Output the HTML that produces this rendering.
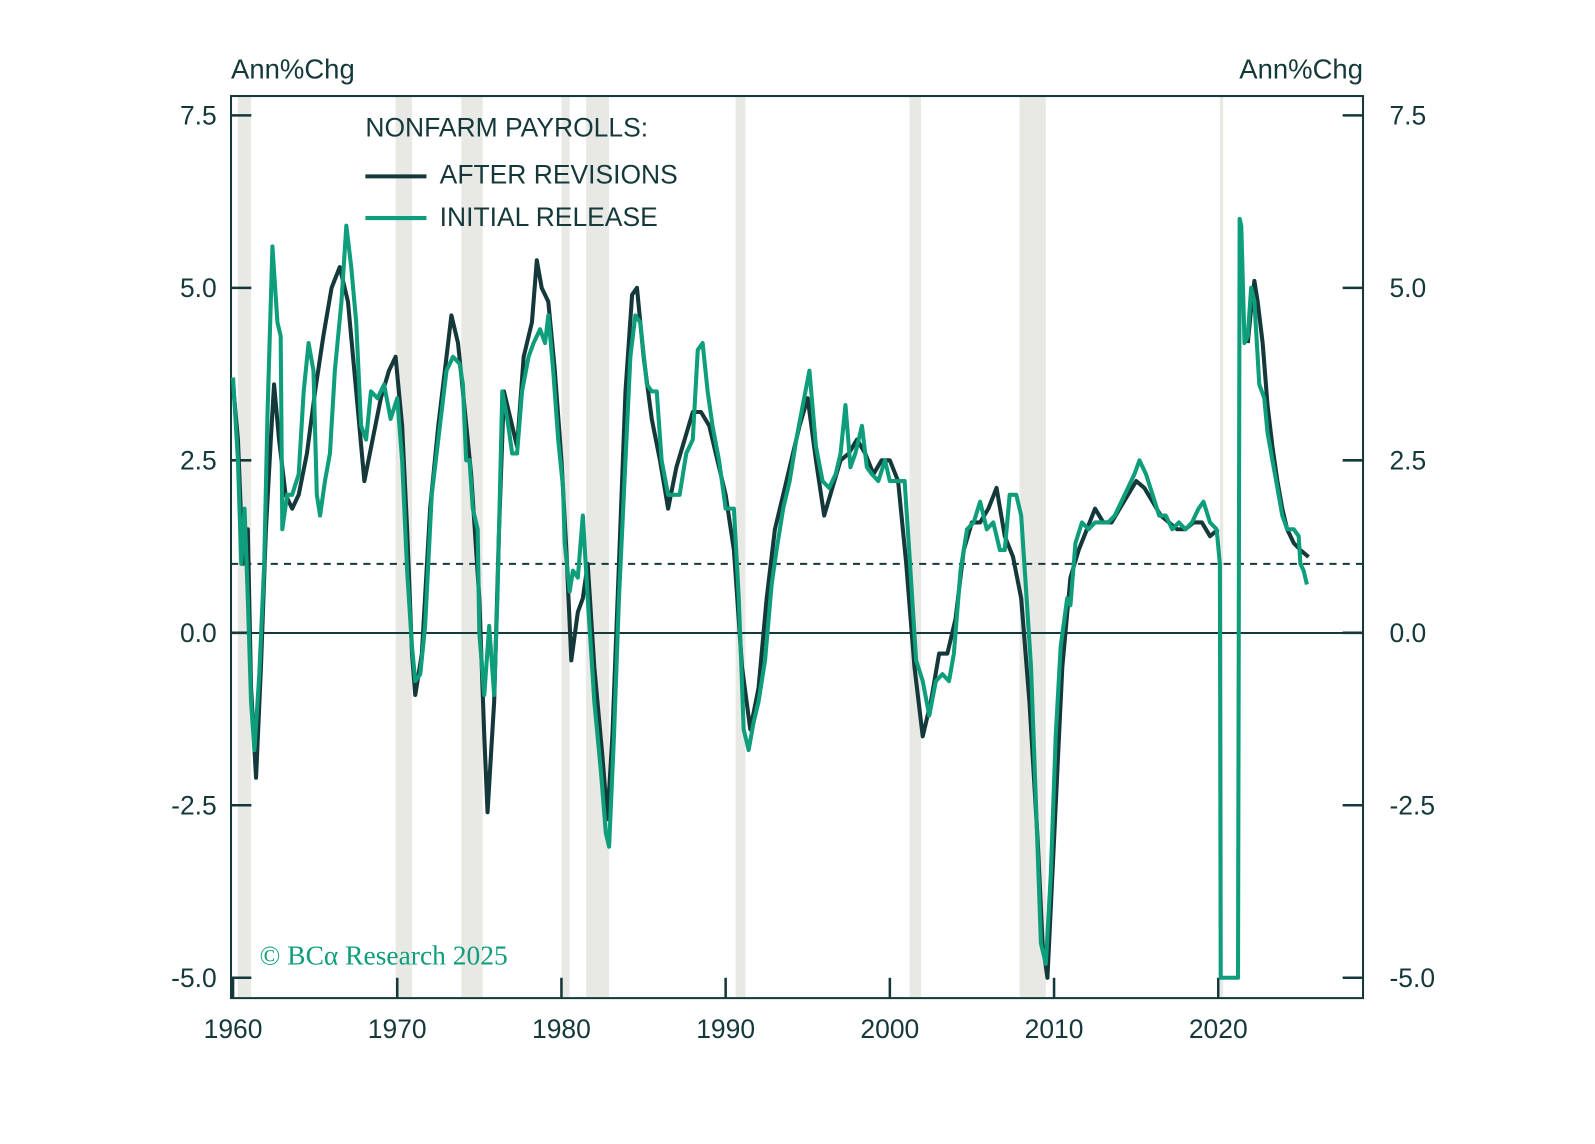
<!DOCTYPE html>
<html><head><meta charset="utf-8"><style>
body{margin:0;background:#fff;}
svg{display:block;font-family:"Liberation Sans",sans-serif;}
</style></head><body>
<svg width="1595" height="1144" viewBox="0 0 1595 1144" xmlns="http://www.w3.org/2000/svg">
<rect width="1595" height="1144" fill="#fff"/>
<g transform="translate(-1.1,-1.6) scale(1.018,1.017)">
<g id="bands" fill="#e8e8e5"></g>
<line x1="228" y1="624" x2="1340" y2="624" stroke="#15393a" stroke-width="2"/>
<line x1="228" y1="556" x2="1340" y2="556" stroke="#15393a" stroke-width="2" stroke-dasharray="7,6"/>
<g id="ticks" stroke="#15393a" stroke-width="2.5"></g>
<rect x="228" y="96" width="1112" height="887" fill="none" stroke="#15393a" stroke-width="2"/>
<g id="lines" fill="none" stroke-width="4" stroke-linejoin="round"></g>
<g fill="#15393a" font-size="27">
<text x="228" y="79">Ann%Chg</text>
<text x="1340" y="79" text-anchor="end">Ann%Chg</text>
</g>
<g id="labels" fill="#15393a" font-size="26"></g>
<g font-size="26" fill="#15393a">
<text x="360" y="136">NONFARM PAYROLLS:</text>
<line x1="360" y1="175" x2="420" y2="175" stroke="#15393a" stroke-width="4"/>
<text x="433" y="182">AFTER REVISIONS</text>
<line x1="360" y1="216" x2="420" y2="216" stroke="#0f9e7b" stroke-width="4"/>
<text x="433" y="224">INITIAL RELEASE</text>
</g>
<text x="256" y="950" font-family="Liberation Serif,serif" font-size="27" fill="#0f9e7b">© BCα Research 2025</text>
</g>
</svg>
<script>
var NS="http://www.w3.org/2000/svg";
function X(y){return 230+(y-1960)*16.13;}
function Y(v){return 623.8-v*67.84;}
function el(t,a,p){var e=document.createElementNS(NS,t);for(var k in a)e.setAttribute(k,a[k]);document.getElementById(p).appendChild(e);return e;}
[[1960.3,1961.1],[1969.9,1970.9],[1973.9,1975.2],[1980.0,1980.5],[1981.5,1982.9],[1990.6,1991.2],[2001.2,2001.9],[2007.9,2009.5],[2020.1,2020.3]].forEach(function(b){el("rect",{x:X(b[0]),y:97,width:X(b[1])-X(b[0]),height:885},"bands");});
[7.5,5,2.5,0,-2.5,-5].forEach(function(v){var y=Y(v);
el("line",{x1:228,y1:y,x2:248,y2:y},"ticks");el("line",{x1:1320,y1:y,x2:1340,y2:y},"ticks");
var s=v.toFixed(1);var t=el("text",{x:214,y:y+9,"text-anchor":"end"},"labels");t.textContent=s;
var t2=el("text",{x:1366,y:y+9},"labels");t2.textContent=s;});
for(var d=1960;d<=2020;d+=10){var x=X(d);el("line",{x1:x,y1:963,x2:x,y2:983},"ticks");var t=el("text",{x:x,y:1022,"text-anchor":"middle"},"labels");t.textContent=d;}
function path(a){var s="";for(var i=0;i<a.length;i+=2){s+=(i?"L":"M")+X(a[i]).toFixed(1)+","+Y(a[i+1]).toFixed(1);}return s;}
var dark1=[1960.0,3.6,1960.3,2.8,1960.6,1.0,1960.9,1.5,1961.1,-0.8,1961.4,-2.1,1961.7,-0.5,1962.0,1.5,1962.3,2.8,1962.5,3.6,1962.8,2.8,1963.2,2.0,1963.6,1.8,1964.0,2.0,1964.5,2.6,1965.0,3.5,1965.5,4.3,1966.0,5.0,1966.5,5.3,1967.0,4.8,1967.5,3.5,1968.0,2.2,1968.5,2.8,1969.0,3.4,1969.5,3.8,1969.9,4.0,1970.3,3.0,1970.6,1.5,1970.9,-0.3,1971.1,-0.9,1971.5,-0.3,1972.0,1.8,1972.5,3.0,1973.0,4.0,1973.3,4.6,1973.7,4.2,1974.0,3.5,1974.5,2.3,1975.0,0.5,1975.3,-1.5,1975.5,-2.6,1975.9,-1.0,1976.2,1.5,1976.5,3.5,1976.9,3.1,1977.3,2.7,1977.7,4.0,1978.2,4.5,1978.5,5.4,1978.8,5.0,1979.2,4.8,1979.6,3.8,1980.0,2.5,1980.3,1.2,1980.6,-0.4,1981.0,0.3,1981.3,0.5,1981.6,1.0,1982.0,-0.5,1982.5,-1.8,1982.8,-2.7,1983.1,-1.5,1983.5,1.0,1983.9,3.5,1984.3,4.9,1984.6,5.0,1985.0,4.0,1985.5,3.1,1986.0,2.5,1986.5,1.8,1987.0,2.4,1987.5,2.8,1988.0,3.2,1988.5,3.2,1989.0,3.0,1989.5,2.5,1990.0,2.0,1990.5,1.2,1991.0,-0.5,1991.5,-1.4,1992.0,-0.8,1992.5,0.5,1993.0,1.5,1993.5,2.0,1994.0,2.5,1994.5,3.0,1995.0,3.4,1995.5,2.5,1996.0,1.7,1996.5,2.1,1997.0,2.5,1997.5,2.6,1998.0,2.8,1998.5,2.6,1999.0,2.3,1999.5,2.5,2000.0,2.5,2000.5,2.2,2001.0,1.0,2001.5,-0.5,2002.0,-1.5,2002.5,-1.0,2003.0,-0.3,2003.5,-0.3,2004.0,0.2,2004.5,1.2,2005.0,1.6,2005.5,1.6,2006.0,1.8,2006.5,2.1,2007.0,1.4,2007.5,1.1,2008.0,0.5,2008.5,-1.0,2009.0,-3.0,2009.3,-4.5,2009.6,-5.0,2010.0,-3.0,2010.5,-0.5,2011.0,0.8,2011.5,1.2,2012.0,1.5,2012.5,1.8,2013.0,1.6,2013.5,1.6,2014.0,1.8,2014.5,2.0,2015.0,2.2,2015.5,2.1,2016.0,1.9,2016.5,1.7,2017.0,1.6,2017.5,1.5,2018.0,1.5,2018.5,1.6,2019.0,1.6,2019.5,1.4,2020.0,1.5];
var dark2=[2021.8,4.2,2022.0,4.7,2022.2,5.1,2022.4,4.8,2022.7,4.2,2023.0,3.3,2023.3,2.7,2023.6,2.2,2023.9,1.8,2024.2,1.5,2024.6,1.3,2025.0,1.2,2025.5,1.1];
var green=[1960.0,3.7,1960.3,2.5,1960.5,1.0,1960.7,1.8,1960.9,0.5,1961.1,-1.0,1961.3,-1.7,1961.6,-0.6,1961.9,1.0,1962.1,3.2,1962.4,5.6,1962.7,4.5,1962.9,4.3,1963.0,1.5,1963.3,2.0,1963.6,2.0,1964.0,2.3,1964.3,3.5,1964.6,4.2,1964.9,3.8,1965.1,2.0,1965.3,1.7,1965.6,2.2,1965.9,2.6,1966.2,3.8,1966.6,4.8,1966.9,5.9,1967.2,5.3,1967.5,4.5,1967.8,3.0,1968.1,2.8,1968.4,3.5,1968.8,3.4,1969.2,3.6,1969.6,3.1,1970.0,3.4,1970.3,2.5,1970.6,0.9,1970.9,-0.2,1971.1,-0.7,1971.4,-0.6,1971.7,0.1,1972.1,2.0,1972.6,3.0,1973.0,3.8,1973.4,4.0,1973.8,3.9,1974.0,3.6,1974.2,2.5,1974.4,2.5,1974.6,1.8,1974.9,1.5,1975.0,0.0,1975.3,-0.9,1975.6,0.1,1975.9,-0.9,1976.1,0.5,1976.4,3.5,1976.7,3.1,1977.0,2.6,1977.3,2.6,1977.6,3.5,1978.0,4.0,1978.3,4.2,1978.7,4.4,1979.0,4.2,1979.2,4.6,1979.5,3.8,1979.8,2.8,1980.1,2.1,1980.2,1.3,1980.5,0.6,1980.7,0.9,1981.0,0.8,1981.3,1.7,1981.6,0.5,1982.0,-1.0,1982.4,-2.0,1982.7,-2.9,1982.9,-3.1,1983.2,-1.5,1983.5,0.5,1983.9,2.5,1984.2,4.0,1984.5,4.6,1984.8,4.5,1985.2,3.6,1985.5,3.5,1985.8,3.5,1986.1,2.5,1986.5,2.0,1986.9,2.0,1987.2,2.0,1987.6,2.6,1988.0,2.8,1988.3,4.1,1988.6,4.2,1988.9,3.5,1989.2,3.0,1989.6,2.5,1990.0,1.8,1990.5,1.8,1990.8,0.5,1991.1,-1.4,1991.4,-1.7,1991.7,-1.3,1992.0,-1.0,1992.4,-0.4,1992.8,0.7,1993.1,1.2,1993.5,1.8,1993.9,2.2,1994.3,2.8,1994.7,3.3,1995.1,3.8,1995.5,2.7,1995.9,2.2,1996.3,2.1,1996.7,2.3,1997.0,2.6,1997.3,3.3,1997.6,2.4,1997.9,2.6,1998.3,3.0,1998.6,2.4,1998.9,2.3,1999.3,2.2,1999.7,2.5,2000.0,2.2,2000.5,2.2,2000.9,2.2,2001.2,1.1,2001.6,-0.4,2002.0,-0.7,2002.4,-1.2,2002.8,-0.7,2003.2,-0.6,2003.6,-0.7,2003.9,-0.3,2004.3,0.9,2004.7,1.5,2005.1,1.6,2005.5,1.9,2005.9,1.5,2006.3,1.6,2006.7,1.2,2007.0,1.2,2007.3,2.0,2007.7,2.0,2008.0,1.7,2008.3,0.6,2008.6,-0.5,2008.9,-2.5,2009.2,-4.5,2009.5,-4.8,2009.8,-3.5,2010.1,-1.5,2010.4,-0.2,2010.8,0.5,2011.0,0.4,2011.3,1.3,2011.7,1.6,2012.1,1.5,2012.5,1.6,2012.9,1.6,2013.3,1.6,2013.7,1.7,2014.1,1.9,2014.5,2.1,2014.9,2.3,2015.2,2.5,2015.6,2.3,2016.0,2.0,2016.4,1.7,2016.8,1.7,2017.2,1.5,2017.6,1.6,2018.0,1.5,2018.4,1.6,2018.8,1.8,2019.1,1.9,2019.5,1.6,2019.9,1.5,2020.1,1.0,2020.15,-5.0,2021.2,-5.0,2021.3,6.0,2021.4,5.9,2021.6,4.2,2021.8,4.3,2022.0,5.0,2022.2,4.8,2022.5,3.6,2022.8,3.4,2023.0,2.9,2023.3,2.5,2023.6,2.1,2023.9,1.7,2024.2,1.5,2024.6,1.5,2024.9,1.4,2025.0,1.0,2025.2,0.9,2025.4,0.7];
el("path",{d:path(dark1)+path(dark2),stroke:"#15393a"},"lines");
el("path",{d:path(green),stroke:"#0f9e7b"},"lines");
</script>
</body></html>
